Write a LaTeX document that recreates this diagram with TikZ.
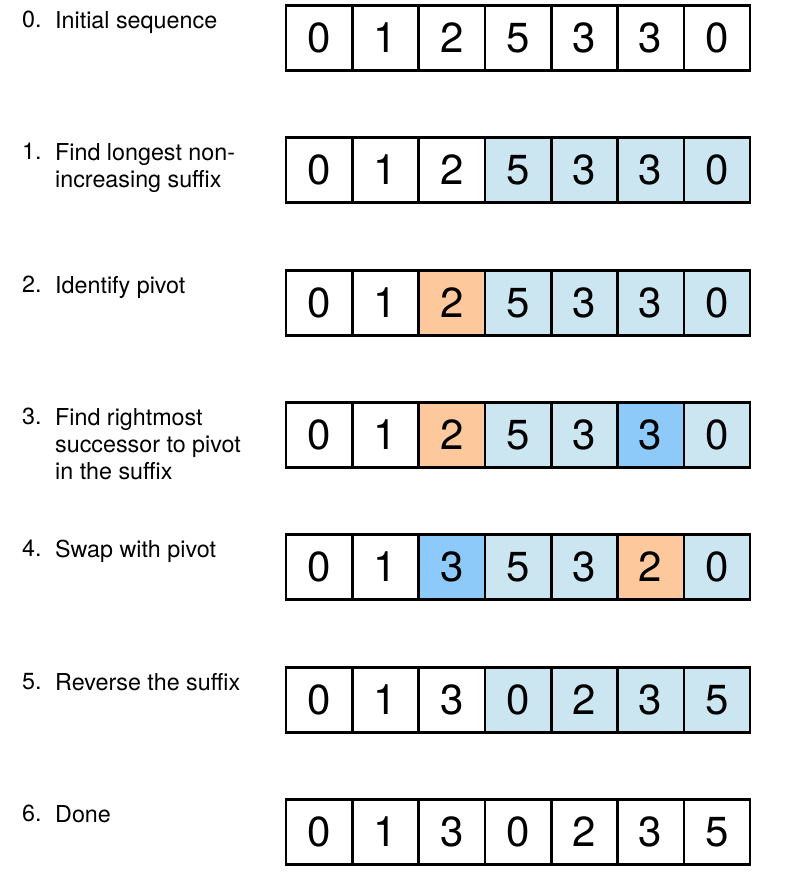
\documentclass[tikz,border=0pt]{standalone}
\usepackage{fontspec}
\setmainfont{TeX Gyre Heros}
\definecolor{cW}{RGB}{255,255,255}
\definecolor{cL}{RGB}{204,230,241}
\definecolor{cO}{RGB}{253,200,156}
\definecolor{cB}{RGB}{142,202,249}
\begin{document}
\begin{tikzpicture}[x=1pt,y=-1pt,
  cell/.style={draw=black,line width=2.6pt,minimum width=66.3pt,minimum height=65pt,inner sep=0pt,font=\fontsize{42}{42}\selectfont},
  num/.style={anchor=north west,inner sep=0pt,font=\fontsize{23.3}{27}\selectfont},
  lbl/.style={anchor=north west,inner sep=0pt,align=left,font=\fontsize{23.3}{27}\selectfont}]
\useasboundingbox (0,0) rectangle (808,880);
\foreach \r/\t/\cells in {
  0/5/{0/W,1/W,2/W,5/W,3/W,3/W,0/W},
  1/137/{0/W,1/W,2/W,5/L,3/L,3/L,0/L},
  2/270/{0/W,1/W,2/O,5/L,3/L,3/L,0/L},
  3/402/{0/W,1/W,2/O,5/L,3/L,3/B,0/L},
  4/534/{0/W,1/W,3/B,5/L,3/L,2/O,0/L},
  5/667/{0/W,1/W,3/W,0/L,2/L,3/L,5/L},
  6/799/{0/W,1/W,3/W,0/W,2/W,3/W,5/W}}{
  \foreach [count=\i] \v/\c in \cells {
    \node[cell,fill=c\c] (c\r-\i) at ({286+66.3*(\i-0.5)},{\t+33}) {\v};
  }
  \node[num] (n\r) at (22,{\t+6}) {\r.};
}
\node[lbl] (t0) at (55,11) {Initial sequence};
\node[lbl] (t1) at (55,143) {Find longest non-\\increasing suffix};
\node[lbl] (t2) at (55,276) {Identify pivot};
\node[lbl] (t3) at (55,408) {Find rightmost\\successor to pivot\\in the suffix};
\node[lbl] (t4) at (55,540) {Swap with pivot};
\node[lbl] (t5) at (55,673) {Reverse the suffix};
\node[lbl] (t6) at (55,805) {Done};
\end{tikzpicture}
\end{document}
